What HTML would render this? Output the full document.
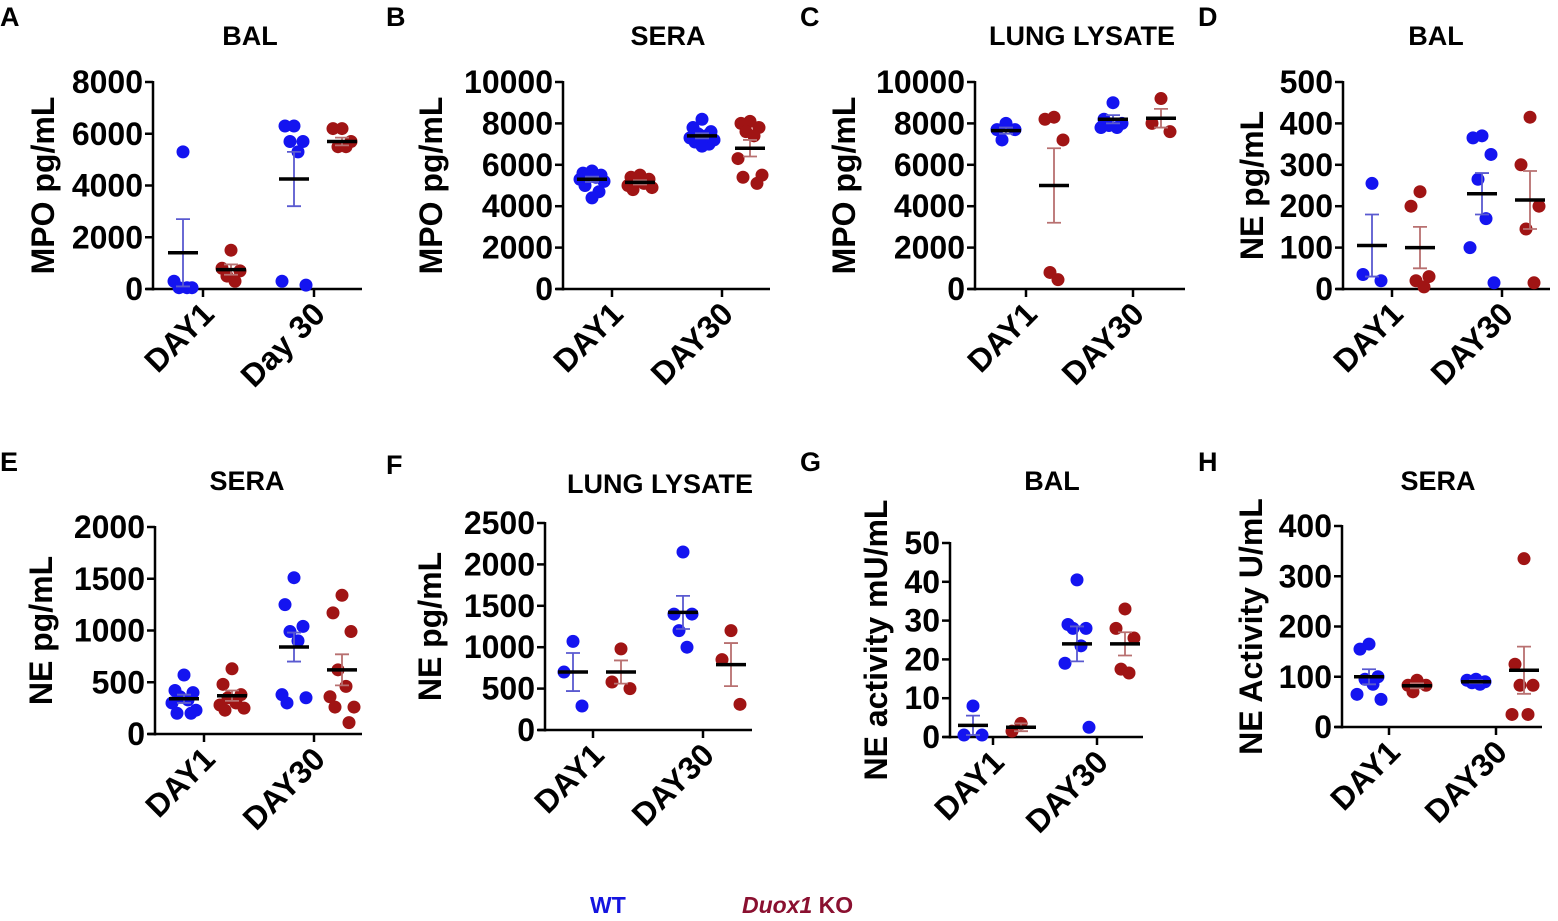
<!DOCTYPE html>
<html><head><meta charset="utf-8"><style>
html,body{margin:0;padding:0;background:#fff;}
svg{display:block;font-family:"Liberation Sans",Arial,sans-serif;}
</style></head><body>
<svg id="fig" width="1558" height="921" viewBox="0 0 1558 921"></svg>
<script>
// ---- data (values per group: [DAY1, DAY30]) ----
const groupLabels = ["DAY1","DAY30"];
const aWT = [[5300,300,50,50,50],[6300,6300,5700,5700,5300,300,150]];
const aKO = [[1500,800,700,500,300],[6200,6200,5700,5500,5500]];
const aWTmean = [1400,4250]; const aWTsem = [1300,1050];
const aKOmean = [750,5700]; const aKOsem = [200,150];

const bWT = [[5700,5600,5500,5500,5400,5300,5200,5000,4700,4400],[8200,7800,7600,7500,7400,7300,7200,7100,7000,6900]];
const bKO = [[5500,5400,5300,5200,5100,5000,4900,4800],[8100,8000,7800,7600,7400,6300,5500,5400,5100]];
const bWTmean = [5300,7400]; const bWTsem = [130,120];
const bKOmean = [5150,6800]; const bKOsem = [100,400];

const cWT = [[8000,7700,7700,7200],[9000,8200,8000,7900,7800,7800]];
const cKO = [[8300,8200,7200,800,450],[9200,8000,7600]];
const cWTmean = [7650,8200]; const cWTsem = [150,200];
const cKOmean = [5000,8250]; const cKOsem = [1800,450];

const dWT = [[255,35,20],[370,365,325,265,170,100,15]];
const dKO = [[235,200,30,20,5],[415,300,200,145,15]];
const dWTmean = [105,230]; const dWTsem = [75,50];
const dKOmean = [100,215]; const dKOsem = [50,70];

const eWT = [[570,420,400,360,330,300,230,200,200],[1510,1250,1040,990,900,380,350,300]];
const eKO = [[630,480,380,350,300,280,250,230],[1340,1170,990,620,460,360,260,260,110]];
const eWTmean = [340,840]; const eWTsem = [40,140];
const eKOmean = [370,620]; const eKOsem = [50,150];

const fWT = [[1070,700,290],[2150,1400,1400,1200,1000]];
const fKO = [[980,580,500],[1200,850,310]];
const fWTmean = [700,1420]; const fWTsem = [230,200];
const fKOmean = [700,790]; const fKOsem = [140,260];

const gWT = [[8,0.5,0.5],[40.5,29,28,28,23.5,19,2.5]];
const gKO = [[3.5,1.5],[33,28,25.5,17.5,16.5]];
const gWTmean = [3,24]; const gWTsem = [2.5,4.5];
const gKOmean = [2.5,24]; const gKOsem = [1,3];

const hWT = [[165,155,100,95,85,65,55],[95,93,90,88,85]];
const hKO = [[93,83,83,70],[335,125,83,83,25,25]];
const hWTmean = [100,90]; const hWTsem = [15,3];
const hKOmean = [82,113]; const hKOsem = [5,47];

const ticksA = [0,2000,4000,6000,8000];
const ticksBC = [0,2000,4000,6000,8000,10000];
const ticksD = [0,100,200,300,400,500];
const ticksE = [0,500,1000,1500,2000];
const ticksF = [0,500,1000,1500,2000,2500];
const ticksG = [0,10,20,30,40,50];
const ticksH = [0,100,200,300,400];

const NS = "http://www.w3.org/2000/svg";
const svg = document.getElementById('fig');
function mk(tag, attrs, parent, text){
  const e = document.createElementNS(NS, tag);
  for (const k in attrs) e.setAttribute(k, attrs[k]);
  if (text !== undefined) e.textContent = text;
  (parent||svg).appendChild(e); return e;
}
const BLUE = "#1414f0", RED = "#a01414", BLUEBAR = "#5a5ad0", REDBAR = "#b87070";

const panels = [
 {id:"a", letter:"A", title:"BAL", titleX:250, ylab:"MPO pg/mL", ax:153, y0:289, yTop:82, xEnd:362, tk:[203,314], ticks:ticksA, wt:aWT, ko:aKO, wm:aWTmean, ws:aWTsem, km:aKOmean, ks:aKOsem, labels:["DAY1","Day 30"], lx:0, ty:45, ylx:54},
 {id:"b", letter:"B", title:"SERA", titleX:668, ylab:"MPO pg/mL", ax:563, y0:289, yTop:82, xEnd:770, tk:[612,722], ticks:ticksBC, wt:bWT, ko:bKO, wm:bWTmean, ws:bWTsem, km:bKOmean, ks:bKOsem, labels:groupLabels, lx:386, ty:45, ylx:442},
 {id:"c", letter:"C", title:"LUNG  LYSATE", titleX:1082, ylab:"MPO pg/mL", ax:975, y0:289, yTop:82, xEnd:1185, tk:[1026,1133], ticks:ticksBC, wt:cWT, ko:cKO, wm:cWTmean, ws:cWTsem, km:cKOmean, ks:cKOsem, labels:groupLabels, lx:800, ty:45, ylx:855},
 {id:"d", letter:"D", title:"BAL", titleX:1436, ylab:"NE pg/mL", ax:1343, y0:289, yTop:82, xEnd:1550, tk:[1392,1502], ticks:ticksD, wt:dWT, ko:dKO, wm:dWTmean, ws:dWTsem, km:dKOmean, ks:dKOsem, labels:groupLabels, lx:1198, ty:45, ylx:1263},
 {id:"e", letter:"E", title:"SERA", titleX:247, ylab:"NE pg/mL", ax:155, y0:734, yTop:527, xEnd:362, tk:[204,314], ticks:ticksE, wt:eWT, ko:eKO, wm:eWTmean, ws:eWTsem, km:eKOmean, ks:eKOsem, labels:groupLabels, lx:0, ty:490, ylx:52},
 {id:"f", letter:"F", title:"LUNG  LYSATE", titleX:660, ylab:"NE pg/mL", ax:545, y0:730, yTop:523, xEnd:752, tk:[593,703], ticks:ticksF, wt:fWT, ko:fKO, wm:fWTmean, ws:fWTsem, km:fKOmean, ks:fKOsem, labels:groupLabels, lx:386, ty:493, ylx:441},
 {id:"g", letter:"G", title:"BAL", titleX:1052, ylab:"NE activity mU/mL", ax:950, y0:737, yTop:543, xEnd:1143, tk:[993,1097], ticks:ticksG, wt:gWT, ko:gKO, wm:gWTmean, ws:gWTsem, km:gKOmean, ks:gKOsem, labels:groupLabels, lx:800, ty:490, ylx:887},
 {id:"h", letter:"H", title:"SERA", titleX:1438, ylab:"NE Activity U/mL", ax:1342, y0:727, yTop:526, xEnd:1542, tk:[1389,1496], ticks:ticksH, wt:hWT, ko:hKO, wm:hWTmean, ws:hWTsem, km:hKOmean, ks:hKOsem, labels:groupLabels, lx:1198, ty:490, ylx:1262}
];

function jitter(i, n){
  if (n <= 1) return 0;
  const pattern = [0,-9,9,-4,4,-12,12,-7,7,0];
  return pattern[i % pattern.length];
}

panels.forEach(p => {
  const g = mk('g', {});
  
  
  const maxV = p.ticks[p.ticks.length-1];
  const ys = v => p.y0 - (v / maxV) * (p.y0 - p.yTop);

  const L = mk('text', {x:p.lx, y:p.ty-19, 'font-size':27, 'font-weight':'bold', fill:'#000'}, g, p.letter);
  
  
  const T = mk('text', {x:p.titleX, y:p.ty, 'font-size':27, 'font-weight':'bold', 'text-anchor':'middle', fill:'#000'}, g, p.title);
  
  

  const ya = mk('line', {x1:p.ax, y1:p.yTop-1, x2:p.ax, y2:p.y0+1.5, stroke:'#000', 'stroke-width':2.5}, g);
  
  
  const xa = mk('line', {x1:p.ax-7, y1:p.y0, x2:p.xEnd, y2:p.y0, stroke:'#000', 'stroke-width':2.5}, g);
  
  

  p.ticks.forEach(t => {
    const y = ys(t);
    mk('line', {x1:p.ax-8, y1:y, x2:p.ax, y2:y, stroke:'#000', 'stroke-width':2.5}, g);
    const tl = mk('text', {x:p.ax-10, y:y+11, 'font-size':32, 'font-weight':'bold', 'text-anchor':'end', fill:'#000'}, g, String(t));
    
    
  });

  const yl = mk('text', {x:0, y:0, 'font-size':32, 'font-weight':'bold', 'text-anchor':'middle', fill:'#000',
    transform:`translate(${p.ylx},${(p.y0+p.yTop)/2}) rotate(-90)`}, g, p.ylab);
  
  

  p.tk.forEach((tx, gi) => {
    mk('line', {x1:tx, y1:p.y0, x2:tx, y2:p.y0+8, stroke:'#000', 'stroke-width':2.5}, g);
    const xl = mk('text', {x:0, y:0, 'font-size':32, 'font-weight':'bold', 'text-anchor':'end', fill:'#000',
      transform:`translate(${tx+13},${p.y0+27}) rotate(-45)`}, g, p.labels[gi]);
    
    

    const groups = [
      {vals:p.wt[gi], mean:p.wm[gi], sem:p.ws[gi], cx:tx-20, col:BLUE, bar:BLUEBAR, nm:'wt'},
      {vals:p.ko[gi], mean:p.km[gi], sem:p.ks[gi], cx:tx+28, col:RED, bar:REDBAR, nm:'ko'}
    ];
    groups.forEach(gr => {
      gr.vals.forEach((v, i) => {
        const c = mk('circle', {cx:gr.cx + jitter(i, gr.vals.length), cy:ys(v), r:6.5, fill:gr.col}, g);
        
        
      });
      const hi = ys(gr.mean + gr.sem), lo = ys(Math.max(0, gr.mean - gr.sem));
      const eb = mk('path', {d:`M${gr.cx},${hi}V${lo}M${gr.cx-7},${hi}H${gr.cx+7}M${gr.cx-7},${lo}H${gr.cx+7}`, stroke:gr.bar, 'stroke-width':1.8, fill:'none'}, g);
      
      
      const ml = mk('line', {x1:gr.cx-15, y1:ys(gr.mean), x2:gr.cx+15, y2:ys(gr.mean), stroke:'#000', 'stroke-width':3.5}, g);
      
      
    });
  });
});

const lg = mk('g', {});


const lw = mk('text', {x:590, y:913, 'font-size':23, 'font-weight':'bold', fill:'#1414e0'}, lg, 'WT');


const lk = mk('text', {x:742, y:913, 'font-size':23, 'font-weight':'bold', fill:'#8a1030'}, lg);


mk('tspan', {'font-style':'italic'}, lk, 'Duox1');
mk('tspan', {}, lk, ' KO');
</script>
</body></html>
